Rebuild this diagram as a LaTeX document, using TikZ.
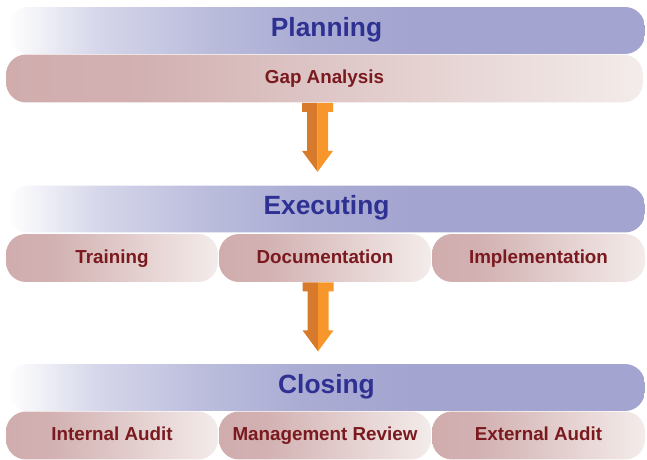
\documentclass[tikz,border=0pt]{standalone}
\usepackage{fontspec}
\setmainfont{Liberation Sans}
\usepackage{tikz}
\usetikzlibrary{positioning}
\definecolor{viola}{HTML}{A3A5D0}
\definecolor{rosa}{HTML}{D0ACAD}
\definecolor{rosachiaro}{HTML}{F3ECEA}
\definecolor{blutesto}{HTML}{2E3192}
\definecolor{rosso}{HTML}{7A1A1F}
\definecolor{arancio}{HTML}{F7962B}
\definecolor{aranciosc}{HTML}{D87A2C}
\pgfdeclarehorizontalshading{sfumaviola}{100bp}{color(0bp)=(white); color(25bp)=(white);
  color(32bp)=(viola!45); color(40bp)=(viola!72); color(48bp)=(viola!92);
  color(57bp)=(viola); color(100bp)=(viola)}
\pgfdeclarehorizontalshading{sfumarosa}{100bp}{color(0bp)=(rosa); color(25bp)=(rosa);
  color(36bp)=(rosa!92!rosachiaro); color(75bp)=(rosachiaro); color(100bp)=(rosachiaro)}
\tikzset{
  fase/.style={shade, shading=sfumaviola,
    rounded corners=0.4cm, minimum width=12.74cm, minimum height=0.94cm,
    text=blutesto, font=\bfseries\fontsize{15}{18}\selectfont,
    text height=0.64em, text depth=0pt},
  attivita/.style={shade, shading=sfumarosa,
    rounded corners=0.4cm, minimum height=0.96cm,
    text=rosso, font=\bfseries\fontsize{10.7}{13}\selectfont,
    text height=0.6em, text depth=0pt},
}
\begin{document}
\begin{tikzpicture}[x=0.02cm,y=-0.02cm]
    \useasboundingbox (0,0) rectangle (647,460);
    % fasi
    \node[fase] (plan) at (326.5,30.5) {Planning};
    \node[fase] (exec) at (326.5,209) {Executing};
    \node[fase] (close) at (326.5,387.5) {Closing};
    % attivita
    \node[attivita, minimum width=12.74cm] (gap) at (324.5,78.5) {Gap Analysis};
    \node[attivita, minimum width=4.24cm] (train) at (112,258) {Training};
    \node[attivita, minimum width=4.24cm] (doc) at (325,258) {Documentation};
    \node[attivita, minimum width=4.26cm] (impl) at (538.5,258) {Implementation};
    \node[attivita, minimum width=4.24cm] (intaud) at (112,435.5) {Internal Audit};
    \node[attivita, minimum width=4.24cm] (mgmt) at (325,435.5) {Management Review};
    \node[attivita, minimum width=4.26cm] (extaud) at (538.5,435.5) {External Audit};
    % frecce
    \foreach \da in {gap,doc}{
      \begin{scope}[shift={(\da.south)}, xshift=-0.14cm]
        \fill[aranciosc] (0,0) -- (-15.5,0) -- (-15.5,9) -- (-10.5,9) -- (-10.5,48)
          -- (-15.5,48) -- (0,69) -- cycle;
        \fill[arancio] (0,0) -- (15.5,0) -- (15.5,9) -- (10.5,9) -- (10.5,48)
          -- (15.5,48) -- (0,69) -- cycle;
      \end{scope}
    }
\end{tikzpicture}
\end{document}
